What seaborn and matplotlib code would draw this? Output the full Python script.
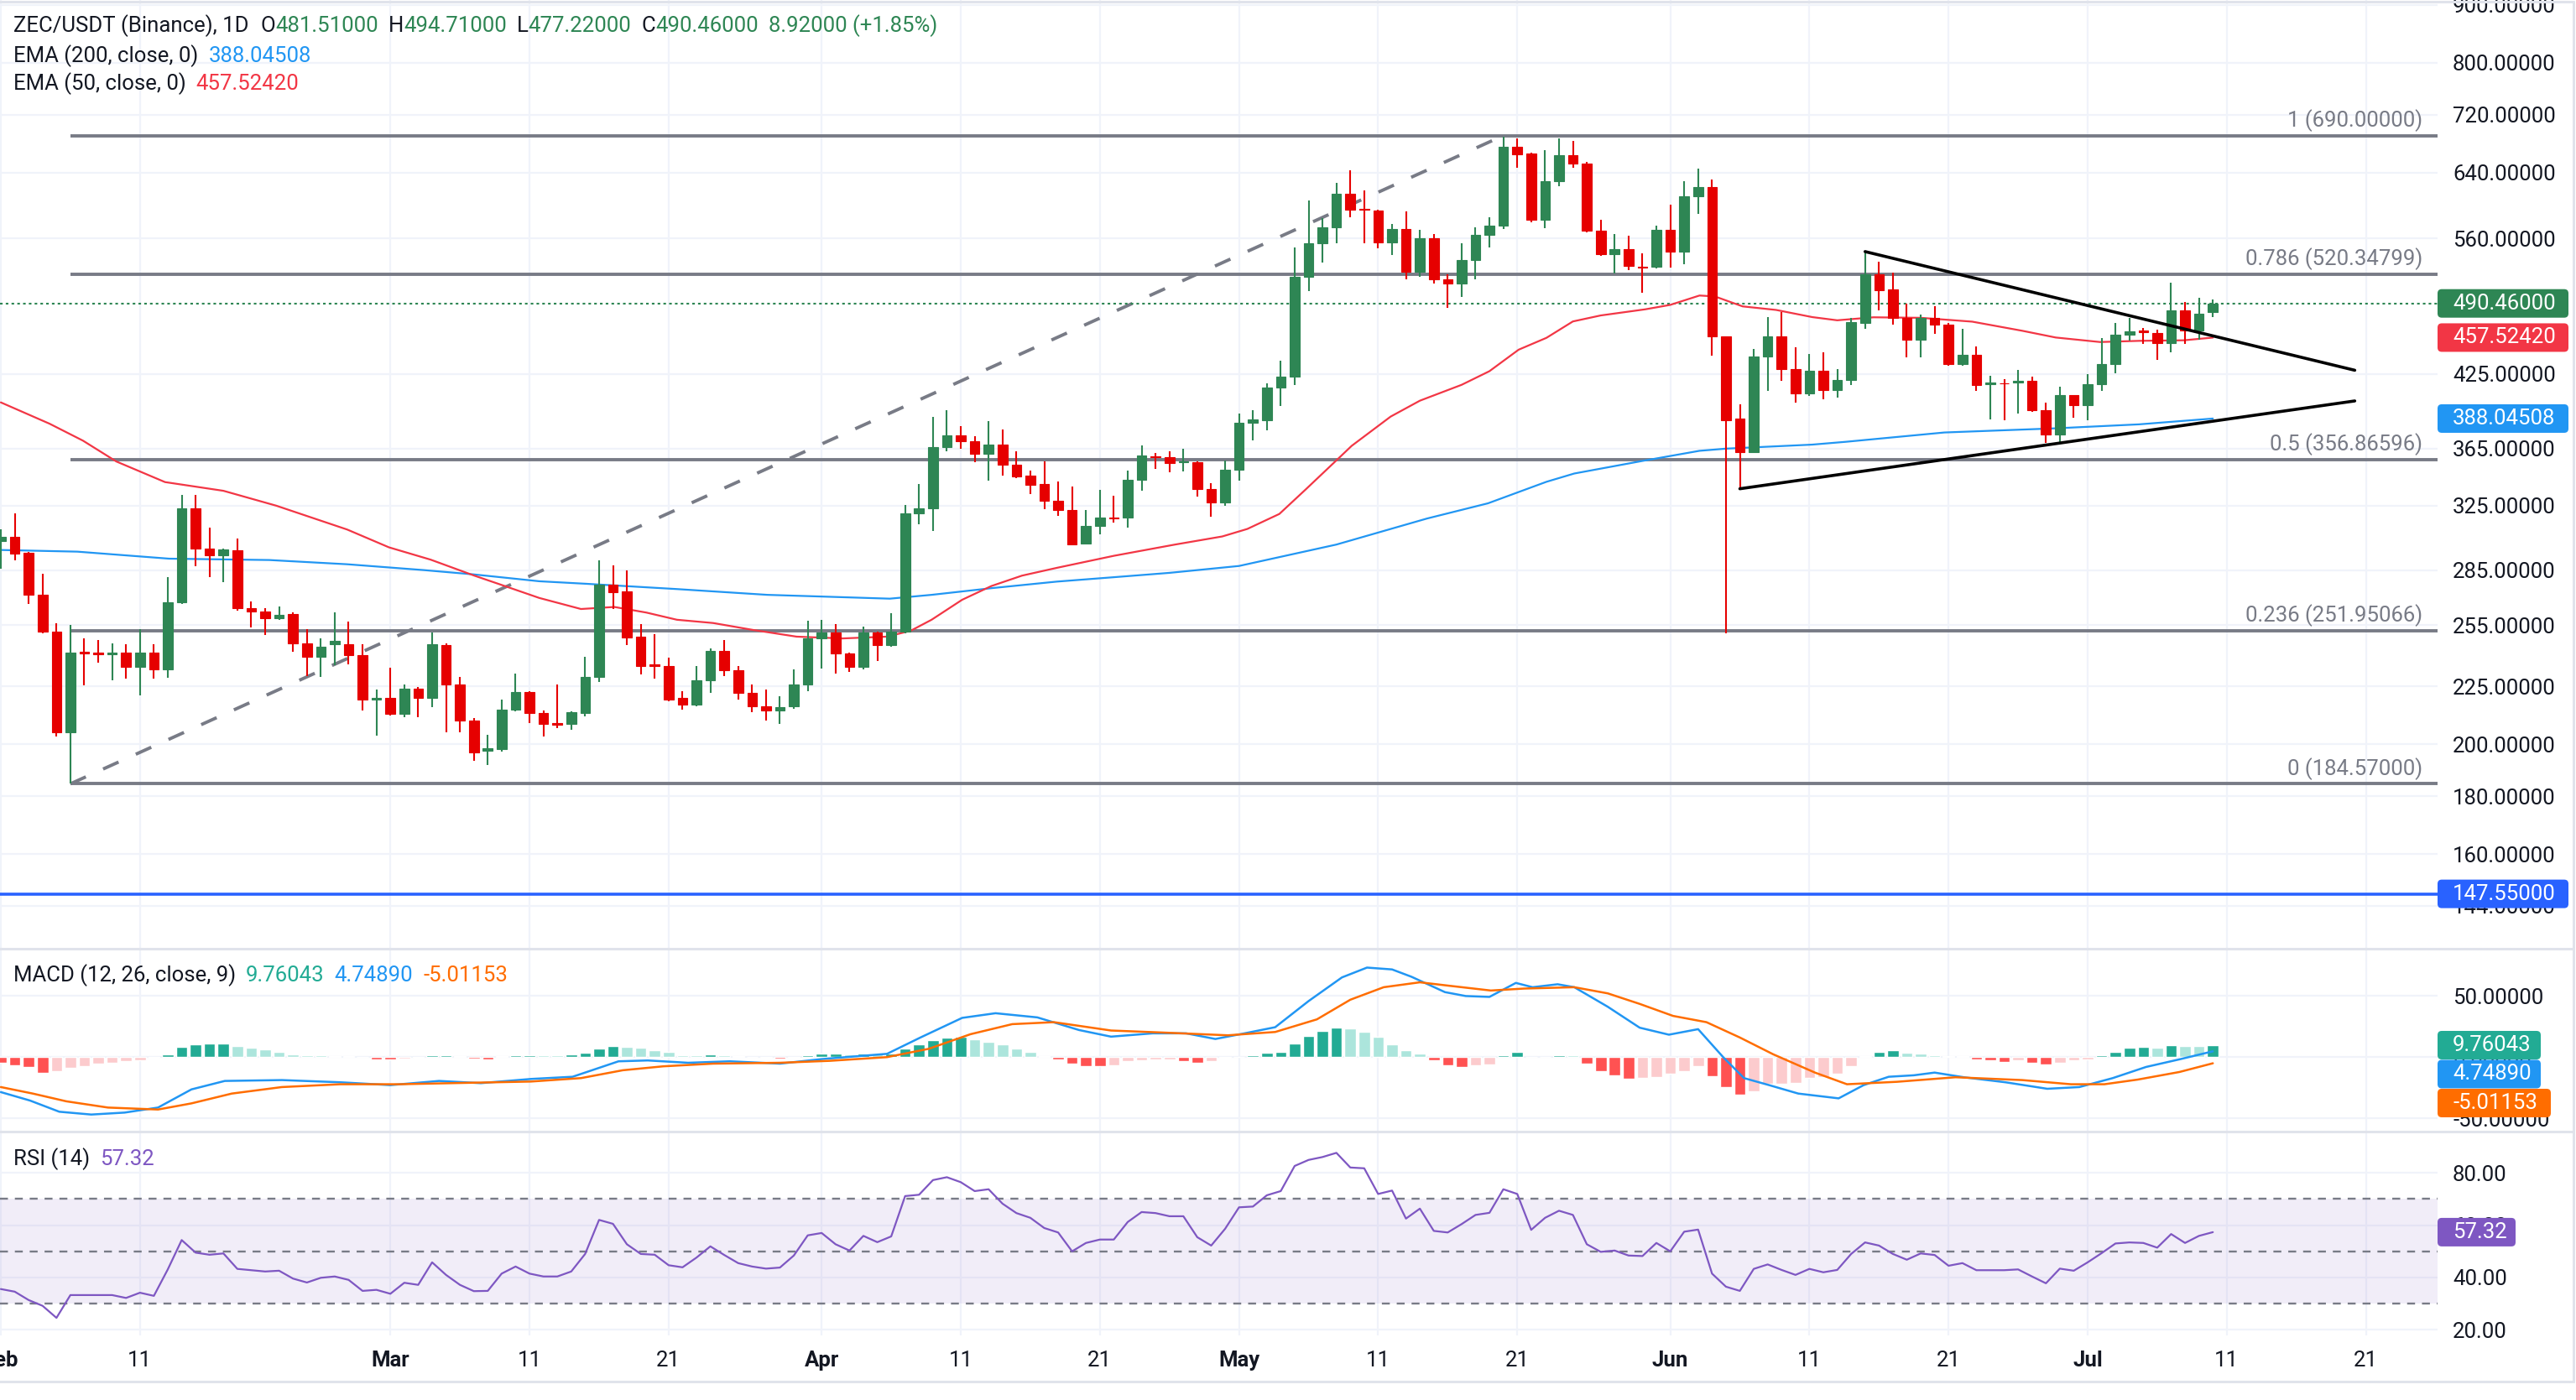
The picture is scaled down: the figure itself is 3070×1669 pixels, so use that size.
import numpy as np
import pandas as pd
import seaborn as sns
import matplotlib
matplotlib.use("Agg")
import matplotlib.pyplot as plt
import matplotlib.dates as mdates
import matplotlib.transforms as mtransforms
from matplotlib.patches import FancyBboxPatch
from matplotlib.lines import Line2D
from matplotlib.ticker import NullLocator

# ---------------- data ----------------
start = "2026-02-01"

open_ = [302.6, 305, 295.5, 271, 251.5, 205, 241.5, 241, 240.3, 241,
         234, 241, 233, 267, 323, 298, 294, 297, 264, 262,
         258.6, 260.6, 245.5, 239, 245, 245, 240, 219, 220, 212.8,
         223.8, 220, 244.7, 226, 210, 197.5, 198, 214.6, 222.5, 213,
         209, 208.6, 213.3, 229.4, 277, 273, 248.8, 235.3, 234.5, 220,
         217, 228, 242, 232.7, 222, 216, 214.3, 216, 226, 248.3,
         251, 240.6, 234, 251, 244.8, 251.5, 320, 323, 366, 375,
         370.3, 361.4, 367.8, 353.3, 345.5, 339.5, 328.5, 322.4, 301, 312,
         317.3, 317, 342.8, 359.5, 358.8, 354.8, 355.3, 336, 327, 349.6,
         384.8, 387, 413.3, 422.4, 517.5, 554, 573, 612.6, 594.5, 592.6,
         555, 570.6, 523.3, 559.7, 514.8, 510.3, 535.8, 563.5, 574.7, 674,
         665.4, 581, 628.5, 662.7, 652, 569, 542.5, 548, 528.3, 528.5,
         569.3, 544.5, 610.3, 621.6, 458.7, 387.7, 362.5, 440.3, 458.7, 429.4,
         408.3, 428, 411.3, 420, 471.4, 520.6, 504.7, 476.6, 455.3, 476.6,
         469.8, 433.4, 441.9, 416, 417.2, 417.8, 419, 395, 375.8, 406.7,
         398.8, 416.2, 433.4, 460.6, 463.8, 461.6, 452.5, 483.2, 464.4, 481.51]
high = [310, 320, 296, 283, 255.8, 255, 248, 247.5, 245.7, 245,
        253, 245, 281, 332, 332, 311, 298, 304, 267.6, 264,
        264.8, 261.4, 253, 248.3, 261.5, 256.7, 245, 223.6, 233.8, 226,
        224.6, 251, 245.5, 229.4, 211, 204, 219, 231, 222.8, 214.3,
        225.9, 213.9, 239, 291, 288, 285, 255.5, 250.4, 238.6, 222.8,
        234.5, 243.3, 247.3, 234.4, 225.9, 223.6, 220.5, 232.9, 257, 257.5,
        255.5, 241, 254, 251.5, 261, 325.6, 339.7, 389.3, 394.6, 382,
        374.5, 385.8, 379.5, 363.3, 348.8, 355.6, 341.4, 337.9, 322.4, 335.5,
        331.7, 348.8, 367.3, 362, 363, 364.7, 355.6, 340, 356, 392.3,
        394.4, 416.8, 436.5, 549.7, 605, 583.7, 626.5, 643.5, 617.4, 593,
        576.8, 591, 570, 564.5, 520, 554.4, 573, 584, 689, 686.6,
        666, 669.7, 686.6, 682.6, 654, 581, 564.6, 563, 543, 574.6,
        600, 629, 645, 630.6, 459, 399.2, 446.7, 476.8, 481.6, 448.3,
        442.8, 444, 429, 476.6, 545, 533.6, 521.8, 490.4, 479.5, 487.5,
        471.1, 466, 449.6, 423, 420.3, 428.3, 422.7, 401, 414, 407,
        424.7, 456.9, 471, 476, 466.3, 465, 511.4, 491.7, 496.2, 494.71]
low = [286, 291, 266, 250.5, 203.3, 184.57, 225.6, 236, 228, 228.5,
       221, 228.5, 229, 266, 287.6, 281, 278, 262.5, 253.7, 249.9,
       257.5, 241.5, 229.8, 229.4, 235, 235.4, 214.3, 203.7, 212, 211.4,
       211.4, 215.7, 205, 205, 193.4, 191.7, 197, 214, 209, 203.3,
       206.8, 206, 211.6, 227, 263.5, 244.6, 230.6, 228.6, 218.3, 214.5,
       216, 222, 229.8, 219, 213.5, 210, 208.6, 215, 222.8, 233.4,
       231, 231.7, 233, 237, 244, 250.7, 312.7, 308.6, 363.3, 364.7,
       355, 342, 345.8, 344, 333, 322.7, 318.4, 300, 300.5, 306.5,
       313.8, 310.8, 335, 350.5, 348, 348.6, 331, 318, 324.7, 342,
       371.2, 379, 398, 415.6, 502.6, 533.3, 554.5, 584.7, 554.4, 548.9,
       541, 515, 518, 511, 486.4, 497, 515.5, 550, 570.7, 646.6,
       578, 572, 622.5, 646.6, 567, 540.6, 521.3, 525, 501, 527,
       527.2, 531, 588, 441, 250.7, 336.4, 361.7, 410.6, 419, 400.8,
       406, 403.6, 405, 415.6, 466, 483.7, 470, 439.8, 439.8, 461,
       432, 432, 410.8, 387.4, 386.5, 392.2, 393.5, 369.3, 370, 388.7,
       386.5, 410.8, 425.4, 455, 452, 437.3, 444, 452, 455.4, 477.22]
close = [305.3, 295, 271, 251.5, 205, 241, 240.5, 240.3, 241.2, 234,
         241, 233, 267, 323, 298, 294, 297.5, 264, 262, 258.6,
         260.4, 245.5, 239, 243.9, 247, 240, 219, 220, 212.8, 223.8,
         220, 245, 226, 210, 196.7, 198.3, 214.6, 222.5, 213, 208.5,
         208.2, 213.6, 229.4, 277, 272.6, 248.5, 234.7, 234.5, 219, 217,
         228, 242, 232.7, 222, 216, 214.3, 215.8, 226.1, 248.3, 251,
         240.7, 234, 251, 244.8, 251.5, 320, 323, 366, 375, 370.3,
         361.4, 367.8, 353, 345, 339.3, 328.3, 322.2, 300.6, 312, 317,
         316.6, 342.8, 359.7, 358.8, 354.6, 355.6, 336, 327, 349.6, 384.8,
         387.4, 413.3, 422.4, 517.7, 554.4, 572.8, 612.6, 593.8, 593.5, 554.9,
         570.6, 523.3, 559.7, 514.8, 510.3, 536, 563.5, 574.7, 674, 664,
         581, 628.5, 662.7, 652, 569, 542.5, 547.6, 529, 527.5, 569.3,
         544.5, 610.3, 621.6, 458.7, 387, 362.5, 440.3, 458.7, 429.4, 408.3,
         427.3, 411.3, 420, 471.8, 520.6, 503.7, 476, 455.3, 476, 469.8,
         433.4, 441.9, 415.6, 417.3, 416.5, 418.8, 394.4, 375.8, 406.7, 398.8,
         416.4, 433.7, 460.6, 463, 462.7, 452.5, 483.2, 464.4, 480.6, 490.46]

# moving averages, sampled along the drawn lines (day offset from start, value)
ema50_day = [0, 3.5, 5.9, 8.3, 11.8, 16, 19.8, 24.9, 27.9, 30.9, 34, 36, 38.7, 41.7, 44.1,
             46.4, 48.6, 51.2, 54, 57.2, 60.5, 63.7, 65.4, 66.9, 69.1, 71.2, 73.4, 75.9, 80,
             84.4, 87.8, 89.6, 91.9, 93.8, 96, 97.1, 99.9, 102, 105, 107, 109.1, 111.1, 113,
             115, 118.2, 120, 122.1, 123.2, 125.2, 127.6, 130.2, 132, 134.6, 138, 141.7,
             145.3, 147.7, 150.9, 153.7, 156.9, 159]
ema50_val = [401, 384, 371, 355.6, 341, 335, 325, 309.6, 298.6, 291.2, 282, 276.6, 269.4, 263.4,
             264.5, 261.5, 257.7, 256, 252.5, 249, 248.1, 249, 252, 257.7, 268.4, 276, 281.9,
             286.4, 293.5, 300.3, 305.3, 310, 319.6, 336, 356.4, 367.1, 389.6, 402.4, 415.6,
             427.3, 446.4, 457.3, 472.8, 478.6, 484.6, 489, 498.4, 497.5, 487.5, 484, 477,
             473.9, 476.8, 476.3, 472.6, 463.9, 457.6, 453.4, 454.5, 455, 457.5242]
ema200_day = [0, 5.5, 12.1, 19.3, 24.9, 30.4, 34, 38.7, 42, 48.6, 55.1, 63.9, 66.9, 71.2, 75.9,
              80, 84, 89, 96, 102.5, 106.9, 111.1, 113.1, 118, 122.1, 124, 130.2, 132.6,
              139.7, 147.7, 153.7, 159]
ema200_val = [297, 296, 291.8, 291, 288.5, 285.1, 282.6, 278.7, 277.3, 274.3, 271.1, 269, 271.1,
              274.8, 278.5, 281, 283.5, 287.5, 300.3, 316.6, 326.6, 341.2, 347, 356, 363.4,
              365, 368, 370.1, 377.2, 380.4, 383.5, 388.04508]

# MACD (12, 26, 9)
macd_day = [0, 2.1, 4.2, 6.5, 8.9, 11.3, 13.7, 16.1, 20.2, 24.4, 28, 31.5, 34.5, 38.1, 41.1,
            44.4, 46.5, 49.4, 52.4, 56, 59, 63.7, 66.1, 69.1, 71.5, 74.5, 77.5, 79.8, 82.8,
            85.2, 87.3, 89.4, 91.6, 94, 96.4, 98.2, 100, 101.4, 103.8, 105.3, 107, 108.9,
            110.1, 111.9, 113.1, 115.5, 117.8, 119.9, 122, 123.8, 125.3, 127.1, 129.2, 132.1,
            133.9, 135.7, 137.5, 139, 141.1, 144.1, 147.1, 149.4, 151.8, 154.2, 156.6, 159]
macd_val = [-28.5, -35.4, -44.5, -46.8, -45.2, -41.1, -26.3, -19.4, -18.7, -20.5, -22.8, -19.4,
            -21.2, -17.8, -16, -3.4, -2.7, -4.6, -3.4, -5.3, -1.6, 2.7, 16, 32, 35.8, 32.4,
            22.1, 16.7, 19.4, 19.4, 14.8, 19.4, 24.4, 45.7, 65, 73, 71.5, 65.5, 53, 49.8,
            49.1, 60.5, 57, 59.4, 57, 41.1, 24, 18.3, 22.8, 0, -17.1, -22.8, -29.7, -33.6,
            -22.8, -16, -14.8, -12.6, -16.4, -20.5, -25.8, -24.4, -17.1, -8, -1.8, 4.7489]
signal_day = [0, 2.3, 4.7, 7.7, 11.3, 13.7, 16.6, 20.2, 24.4, 28.6, 33.3, 38.1, 41.7, 44.7,
              47.6, 51.2, 56, 59.6, 63.7, 66.7, 69.7, 72.7, 75.7, 79.8, 83.4, 88.2, 91.6,
              94.6, 97, 99.4, 102, 104.1, 107.1, 109.5, 113.1, 115.5, 117.8, 120.2, 122.6,
              125, 127.4, 130.4, 132.7, 136.3, 140.5, 145.3, 148.8, 151.2, 153.6, 156.6, 159]
signal_val = [-24.4, -29.7, -36, -41.1, -42.7, -37.7, -29.7, -24.4, -22.1, -22.1, -21, -19.9,
              -17.1, -10.7, -7.5, -5.3, -4.6, -3, 0, 6.8, 18.7, 26.9, 28.5, 21.7, 20.1, 17.8,
              20.5, 30.8, 46.8, 57, 61, 58.2, 54.3, 55.9, 57, 52, 43.4, 33.6, 28.5, 16, 2.3,
              -12.6, -22.1, -20.1, -16.4, -18.7, -22.1, -22.1, -18.3, -12.1, -5.01153]
hist = [-4.6, -6.4, -8, -12.6, -11.5, -8.4, -7.3, -5, -4.6, -3.4,
        -2.3, -0.8, 2, 8.4, 10.3, 11, 11.1, 9.1, 7.5, 6.2,
        4.3, 2.5, 1.6, 1.5, 1.1, 0.7, 0.5, -1.6, -1.8, -0.9,
        -0.7, 1.6, 1.7, 0.7, -1.1, -1.6, 0.9, 1.6, 1.7, 1.6,
        1.5, 2.3, 3.4, 6.8, 9.1, 8.4, 7.5, 5.7, 4.6, 1.6,
        1.5, 2.3, 1.6, 1.1, 0.5, -0.7, -1.1, -0.7, 1.6, 3.0,
        3.1, 2.3, 3.0, 2.7, 3.2, 6.8, 10.3, 13.7, 16, 16.4,
        14.4, 12.6, 10.3, 7.3, 4.1, 1.1, -1.8, -5.3, -7.3, -7.5,
        -6.4, -3.4, -2.3, -1.8, -1.7, -3.4, -4.6, -3.4, -0.7, 0.5,
        1.6, 3.4, 4.6, 11.4, 17.6, 21.2, 24.4, 23.5, 21, 16.4,
        10.3, 5.5, 2.7, -2.7, -6.4, -8, -6.4, -6.3, 1.6, 4.1,
        0.5, 0.4, 1.6, 1.5, -5, -11.4, -14.8, -17.8, -17, -16.4,
        -13.7, -11.4, -7.3, -15.5, -24.4, -30.8, -27.9, -21.7, -21.5, -21,
        -17.1, -16, -13.2, -7.3, 1, 4.1, 5.5, 3.4, 3.2, 1.6,
        1.1, 0.7, -1.8, -2.9, -3.9, -2.9, -4.6, -5.7, -4.6, -2.9,
        -1.8, 1.6, 4.6, 7.5, 8.4, 7.5, 9.6, 9.1, 9.0, 9.76043]

# RSI (14)
rsi = [35.6, 34.6, 31.4, 29.2, 24.6, 33.3, 33.3, 33.3, 33.3, 32.2,
       34.2, 33, 43.1, 54.3, 49.5, 48.7, 49.2, 43.3, 42.8, 42.3,
       42.6, 39.6, 38.1, 39.9, 40.4, 39.1, 34.9, 35.3, 33.8, 38,
       37.2, 45.8, 41, 37.2, 34.8, 34.9, 41.5, 44.2, 41.5, 40.4,
       40.4, 42.3, 49, 62, 60.5, 52.7, 49, 48.7, 44.7, 43.9,
       47.6, 51.9, 48.6, 45.5, 44.2, 43.4, 43.8, 48.4, 56.1, 57,
       52.7, 50.3, 55.9, 53.5, 55.7, 71.1, 71.6, 77.2, 78.3, 76.4,
       73, 73.7, 68.2, 64.6, 62.8, 58.9, 57.2, 50, 53.2, 54.5,
       54.5, 61.2, 65, 64.6, 63.4, 63.4, 55.4, 52.2, 58.6, 66.8,
       67.1, 71.4, 73, 82.6, 84.9, 86, 87.6, 82, 81.7, 71.9,
       73.2, 62.5, 66.3, 57.8, 57.2, 60.4, 63.9, 64.7, 73.7, 71.9,
       58.2, 62.8, 65.5, 63.9, 52.7, 49.8, 50.3, 48.4, 48.2, 53.2,
       50, 57.5, 58.3, 41.5, 36.5, 34.9, 43.3, 45, 42.9, 41,
       43.3, 42, 42.9, 49, 53.4, 52.2, 49, 46.8, 49.2, 48.6,
       44.5, 45.5, 42.8, 42.8, 42.8, 43.1, 40.4, 37.8, 43.4, 42.6,
       45.8, 49.3, 53, 53.4, 53.2, 51.4, 56.6, 53.2, 55.9, 57.32]

# drawings
fib_levels = [690.0, 520.34799, 356.86596, 251.95066, 184.57]
fib_labels = ["1 (690.00000)", "0.786 (520.34799)", "0.5 (356.86596)",
              "0.236 (251.95066)", "0 (184.57000)"]
fib_from_day = 5
trend_day = [5, 108]
trend_val = [184.57, 690.0]
upper_day = [134, 169.2]
upper_val = [545.0, 428.1]
lower_day = [125, 169.2]
lower_val = [336.4, 402.2]
support = 147.55

price_ticks = [144, 160, 180, 200, 225, 255, 285, 325, 365, 425, 560, 640, 720, 800, 900]
macd_ticks = [-50, 0, 50]
rsi_ticks = [20, 40, 60, 80]
tick_dates = ["2026-02-01", "2026-02-11", "2026-03-01", "2026-03-11", "2026-03-21",
              "2026-04-01", "2026-04-11", "2026-04-21", "2026-05-01", "2026-05-11",
              "2026-05-21", "2026-06-01", "2026-06-11", "2026-06-21", "2026-07-01",
              "2026-07-11", "2026-07-21"]
tick_labels = ["Feb", "11", "Mar", "11", "21", "Apr", "11", "21", "May", "11", "21",
               "Jun", "11", "21", "Jul", "11", "21"]

# ---------------- style ----------------
UP = "#2e8654"
DOWN = "#e60000"
DARK = "#131722"
GREY = "#787b86"
GRID = "#f0f3fa"
SEP = "#e0e3eb"
FS = 18.5

sns.set_theme(style="white")
plt.rcParams["font.family"] = ["Roboto", "DejaVu Sans"]

W, H = 3070, 1669
fig = plt.figure(figsize=(W / 100, H / 100), dpi=100)
fig.patch.set_facecolor("white")


def rect(x0, y0, x1, y1):
    return [x0 / W, 1 - y1 / H, (x1 - x0) / W, (y1 - y0) / H]


ax_p = fig.add_axes(rect(0, 0, 2905, 1130))
ax_m = fig.add_axes(rect(0, 1132, 2905, 1348), sharex=ax_p)
ax_r = fig.add_axes(rect(0, 1350, 2905, 1592), sharex=ax_p)

t0 = mdates.date2num(pd.Timestamp(start))
x = mdates.date2num(pd.date_range(start, periods=len(close), freq="D"))
o, h, l, c = map(np.array, (open_, high, low, close))
cols = np.where(c >= o, UP, DOWN)

# ---- price pane ----
ax_p.set_yscale("log")
ax_p.vlines(x, l, h, colors=cols, lw=1.5, zorder=3)
ax_p.bar(x, c - o, bottom=o, width=0.7, color=cols, edgecolor=cols, linewidth=0.8, zorder=4)

sns.lineplot(x=t0 + np.array(ema200_day), y=ema200_val, ax=ax_p, color="#2196f3",
             linewidth=1.6, zorder=2, legend=False)
sns.lineplot(x=t0 + np.array(ema50_day), y=ema50_val, ax=ax_p, color="#f23645",
             linewidth=1.6, zorder=2, legend=False)

xmax = t0 + 175.15
ax_p.set_xlim(t0 - 0.06, xmax)
ax_p.hlines(fib_levels, t0 + fib_from_day, xmax, color=GREY, lw=2.8, zorder=1.5)
blend = mtransforms.blended_transform_factory(ax_p.transAxes, ax_p.transData)
for lev, lab in zip(fib_levels, fib_labels):
    ax_p.annotate(lab, (0.9938, lev), xycoords=blend, xytext=(0, 3.5), textcoords="offset points",
                  ha="right", va="bottom", color=GREY, fontsize=FS)
ax_p.plot(t0 + np.array(trend_day), trend_val, color=GREY, lw=2.8, dashes=(5.2, 5.8), zorder=1.5)
ax_p.plot(t0 + np.array(upper_day), upper_val, color="black", lw=2.6, zorder=5,
          solid_capstyle="round")
ax_p.plot(t0 + np.array(lower_day), lower_val, color="black", lw=2.6, zorder=5,
          solid_capstyle="round")
ax_p.axhline(close[-1], color=UP, lw=1.5, ls=(0, (1.5, 1.8)), zorder=1.6)
ax_p.axhline(support, color="#2962ff", lw=2.6, zorder=1.6)

ax_p.set_ylim(132.2, 909.2)
ax_p.yaxis.set_minor_locator(NullLocator())
ax_p.set_yticks(price_ticks)
ax_p.set_yticklabels([f"{v:.5f}" for v in price_ticks])

# ---- MACD pane ----
hcols = []
for i, v in enumerate(hist):
    prev = hist[i - 1] if i else v
    if v >= 0:
        hcols.append("#22ab94" if v >= prev else "#ace5dc")
    else:
        hcols.append("#ff5252" if v <= prev else "#fccbcd")
ax_m.bar(x, hist, width=0.82, color=hcols, zorder=2)
sns.lineplot(x=t0 + np.array(macd_day), y=macd_val, ax=ax_m, color="#2196f3",
             linewidth=1.8, zorder=3, legend=False)
sns.lineplot(x=t0 + np.array(signal_day), y=signal_val, ax=ax_m, color="#ff6d00",
             linewidth=1.8, zorder=3, legend=False)
ax_m.set_ylim(-60, 87.7)
ax_m.set_yticks(macd_ticks)
ax_m.set_yticklabels([f"{v:.5f}" for v in macd_ticks])

# ---- RSI pane ----
ax_r.axhspan(30, 70, color="#7e57c2", alpha=0.1, lw=0, zorder=1)
for lev in (70, 50, 30):
    ax_r.axhline(lev, color=GREY, lw=1.7, dashes=(4, 3.5), zorder=2)
sns.lineplot(x=x, y=rsi, ax=ax_r, color="#7e57c2", linewidth=1.6, zorder=3, legend=False)
ax_r.set_ylim(17.9, 95.4)
ax_r.set_yticks(rsi_ticks)
ax_r.set_yticklabels([f"{v:.2f}" for v in rsi_ticks])

# ---- shared axis styling ----
tx = mdates.date2num(pd.to_datetime(tick_dates))
ax_r.set_xticks(tx)
ax_r.set_xticklabels(tick_labels)
for lab in ax_r.get_xticklabels():
    if not lab.get_text().isdigit():
        lab.set_fontweight("bold")
for ax in (ax_p, ax_m, ax_r):
    ax.set(xlabel="", ylabel="")
    ax.set_facecolor("white")
    for s in ax.spines.values():
        s.set_visible(False)
    ax.yaxis.tick_right()
    ax.grid(True, color=GRID, lw=1.6, zorder=0)
    ax.set_axisbelow(True)
    ax.tick_params(axis="y", length=0, pad=13, labelsize=FS, labelcolor=DARK)
    ax.tick_params(axis="x", length=0, pad=13, labelsize=FS, labelcolor=DARK)
ax_p.tick_params(axis="x", labelbottom=False)
ax_m.tick_params(axis="x", labelbottom=False)

# ---- frame lines ----
ident = mtransforms.IdentityTransform()
for (xa, ya, xb, yb) in [(0, 2, 3067, 2), (0, 1131, 3067, 1131), (0, 1349, 3067, 1349),
                         (0, 1647, 3067, 1647), (3067, 2, 3067, 1647)]:
    fig.add_artist(Line2D([xa, xb], [H - ya, H - yb], transform=ident, color=SEP, lw=2.2))


# ---- value tags on the scale ----
def tag(ax, value, text, color, width, shift=0.0):
    y = ax.transData.transform((ax.get_xlim()[0], value))[1] - shift
    x0 = ax.bbox.x1
    fig.add_artist(FancyBboxPatch((x0, y - 17), width, 34, boxstyle="round,pad=0,rounding_size=5",
                                  transform=ident, fc=color, ec="none", zorder=10))
    fig.text(x0 + 18, y, text, transform=ident, color="white", fontsize=FS,
             va="center", ha="left", zorder=11)


tag(ax_p, close[-1], f"{close[-1]:.5f}", UP, 156)
tag(ax_p, ema50_val[-1], f"{ema50_val[-1]:.5f}", "#f23645", 156)
tag(ax_p, ema200_val[-1], f"{ema200_val[-1]:.5f}", "#2196f3", 156)
tag(ax_p, support, f"{support:.5f}", "#2962ff", 156)
tag(ax_m, hist[-1], f"{hist[-1]:.5f}", "#22ab94", 123)
tag(ax_m, hist[-1], f"{macd_val[-1]:.5f}", "#2196f3", 123, shift=34.5)
tag(ax_m, hist[-1], f"{signal_val[-1]:.5f}", "#ff6d00", 135, shift=69)
tag(ax_r, rsi[-1], f"{rsi[-1]:.2f}", "#7e57c2", 93)

# ---- legends / headers ----
renderer = fig.canvas.get_renderer()


def header(x_px, y_px, parts):
    xp = x_px
    for text, color, gap in parts:
        t = fig.text(xp / W, 1 - y_px / H, text, color=color, fontsize=FS, va="center", ha="left")
        xp += t.get_window_extent(renderer).width + gap


header(16, 31, [("ZEC/USDT (Binance), 1D", DARK, 14), ("O", DARK, 0), ("481.51000", UP, 12),
                ("H", DARK, 0), ("494.71000", UP, 12), ("L", DARK, 0), ("477.22000", UP, 12),
                ("C", DARK, 0), ("490.46000", UP, 12), ("8.92000 (+1.85%)", UP, 0)])
header(16, 67, [("EMA (200, close, 0)", DARK, 12), ("388.04508", "#2196f3", 0)])
header(16, 100, [("EMA (50, close, 0)", DARK, 12), ("457.52420", "#f23645", 0)])
header(16, 1163, [("MACD (12, 26, close, 9)", DARK, 12), ("9.76043", "#22ab94", 12),
                  ("4.74890", "#2196f3", 12), ("-5.01153", "#ff6d00", 0)])
header(16, 1382, [("RSI (14)", DARK, 12), ("57.32", "#7e57c2", 0)])

fig.savefig("out.png", dpi=100, facecolor="white")
